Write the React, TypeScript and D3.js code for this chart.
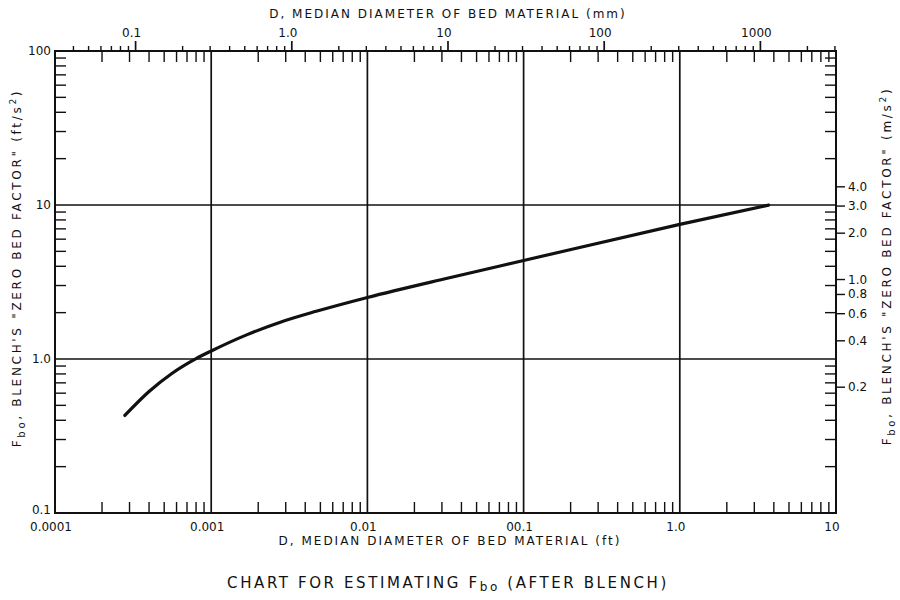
import React from "react";
import * as d3 from "d3";

const X_TICKS_FT = [0.0001, 0.001, 0.01, 0.1, 1, 10];
const X_TICK_LABELS = ["0.0001", "0.001", "0.01", "00.1", "1.0", "10"];
const X_GRID = [0.001, 0.01, 0.1, 1];
const Y_TICKS = [0.1, 1, 10, 100];
const Y_TICK_LABELS = ["0.1", "1.0", "10", "100"];
const Y_GRID = [1, 10];
const MM_TICKS = [0.1, 1, 10, 100, 1000];
const MM_TICK_LABELS = ["0.1", "1.0", "10", "100", "1000"];
const MS2_TICKS = [0.2, 0.4, 0.6, 0.8, 1.0, 2.0, 3.0, 4.0];
const MS2_TICK_LABELS = ["0.2", "0.4", "0.6", "0.8", "1.0", "2.0", "3.0", "4.0"];

const CURVE_D = [0.00028, 0.0004, 0.00056, 0.0008, 0.001, 0.0017, 0.0028, 0.0047, 0.01, 0.033, 0.1, 1.0, 3.7];
const CURVE_F = [0.43, 0.615, 0.805, 1.005, 1.127, 1.44, 1.74, 2.04, 2.51, 3.36, 4.36, 7.48, 9.98];

const FT_TO_MM = 304.8;
const FT_TO_M = 0.3048;

const FONT = "'DejaVu Sans', sans-serif";

function minorTicks(lo: number, hi: number): number[] {
  const out: number[] = [];
  for (let e = Math.floor(Math.log10(lo)) - 1; e <= Math.ceil(Math.log10(hi)); e++) {
    for (let k = 2; k <= 9; k++) {
      const v = k * Math.pow(10, e);
      if (v > lo * 1.0001 && v < hi * 0.9999) out.push(v);
    }
  }
  return out;
}

export default function App() {
  const L = 55, R = 836, T = 51, B = 513;
  const x = d3.scaleLog().domain([0.0001, 10]).range([L, R]);
  const y = d3.scaleLog().domain([0.1, 100]).range([B, T]);

  const xMinor = minorTicks(0.0001, 10);
  const yMinor = minorTicks(0.1, 100);
  const mmLo = 0.0001 * FT_TO_MM, mmHi = 10 * FT_TO_MM;
  const mmMinor = minorTicks(mmLo, mmHi).filter((v) => !MM_TICKS.includes(v));
  const pts = CURVE_D.map((d, i) => [x(d), y(CURVE_F[i])] as [number, number]);
  const line = d3.line().curve(d3.curveMonotoneX)(pts) || "";

  const stroke = "#111";
  const tickLen = 11;

  return (
    <svg width={900} height={600} style={{ position: "absolute", left: 0, top: 0, background: "#fff" }} fontFamily={FONT}>
      <rect x={0} y={0} width={900} height={600} fill="#fff" />
      {/* grid */}
      {X_GRID.map((v) => (
        <line key={"gx" + v} x1={x(v)} x2={x(v)} y1={T} y2={B} stroke={stroke} strokeWidth={1.7} />
      ))}
      {Y_GRID.map((v) => (
        <line key={"gy" + v} x1={L} x2={R} y1={y(v)} y2={y(v)} stroke={stroke} strokeWidth={1.7} />
      ))}
      {/* frame */}
      <rect x={L} y={T} width={R - L} height={B - T} fill="none" stroke={stroke} strokeWidth={2} />

      {/* bottom ft minor ticks (inward) */}
      {xMinor.map((v) => (
        <line key={"bx" + v} x1={x(v)} x2={x(v)} y1={B} y2={B - tickLen} stroke={stroke} strokeWidth={1.4} />
      ))}
      {/* top ft minor ticks (inward) */}
      {xMinor.map((v) => (
        <line key={"tx" + v} x1={x(v)} x2={x(v)} y1={T} y2={T + tickLen} stroke={stroke} strokeWidth={1.4} />
      ))}
      {/* top mm ticks (outward) */}
      {mmMinor.map((v) => (
        <line key={"mm" + v} x1={x(v / FT_TO_MM)} x2={x(v / FT_TO_MM)} y1={T} y2={T - 5} stroke={stroke} strokeWidth={1.4} />
      ))}
      {MM_TICKS.map((v) => (
        <line key={"MM" + v} x1={x(v / FT_TO_MM)} x2={x(v / FT_TO_MM)} y1={T} y2={T - 10} stroke={stroke} strokeWidth={1.7} />
      ))}
      {/* left minor ticks */}
      {yMinor.map((v) => (
        <line key={"ly" + v} x1={L} x2={L + tickLen} y1={y(v)} y2={y(v)} stroke={stroke} strokeWidth={1.4} />
      ))}
      {/* right minor ticks */}
      {yMinor.map((v) => (
        <line key={"ry" + v} x1={R} x2={R - tickLen} y1={y(v)} y2={y(v)} stroke={stroke} strokeWidth={1.4} />
      ))}
      {/* right m/s2 ticks (outward) */}
      {MS2_TICKS.map((v) => (
        <line key={"ms" + v} x1={R} x2={R + 9} y1={y(v / FT_TO_M)} y2={y(v / FT_TO_M)} stroke={stroke} strokeWidth={1.4} />
      ))}

      {/* curve */}
      <path d={line} fill="none" stroke={stroke} strokeWidth={3.2} strokeLinecap="round" strokeLinejoin="round" />

      {/* tick labels */}
      <g fontSize={12} fill={stroke}>
        {X_TICKS_FT.map((v, i) => (
          <text key={"xl" + v} x={x(v) - 4} y={531} textAnchor="middle">{X_TICK_LABELS[i]}</text>
        ))}
        {Y_TICKS.map((v, i) => (
          <text key={"yl" + v} x={L - 4} y={y(v) + (v === 0.1 ? 1 : 4)} textAnchor="end">{Y_TICK_LABELS[i]}</text>
        ))}
        {MM_TICKS.map((v, i) => (
          <text key={"ml" + v} x={x(v / FT_TO_MM) - 4} y={37} textAnchor="middle">{MM_TICK_LABELS[i]}</text>
        ))}
        {MS2_TICKS.map((v, i) => (
          <text key={"sl" + v} x={R + 12} y={y(v / FT_TO_M) + 4} textAnchor="start">{MS2_TICK_LABELS[i]}</text>
        ))}
      </g>

      {/* axis titles */}
      <g fontSize={12} fill={stroke} letterSpacing={2}>
        <text x={448} y={18} textAnchor="middle">D, MEDIAN DIAMETER OF BED MATERIAL (mm)</text>
        <text x={450} y={545} textAnchor="middle">D, MEDIAN DIAMETER OF BED MATERIAL (ft)</text>
      </g>
      <g fontSize={12} fill={stroke} letterSpacing={2.7}>
        <text transform="translate(21,268) rotate(-90)" textAnchor="middle">
          F<tspan fontSize={10} dy={4}>bo</tspan><tspan dy={-4}>, BLENCH'S "ZERO BED FACTOR" (ft/s</tspan><tspan fontSize={9} dy={-5}>2</tspan><tspan dy={5}>)</tspan>
        </text>
        <text transform="translate(891,266) rotate(-90)" textAnchor="middle">
          F<tspan fontSize={10} dy={4}>bo</tspan><tspan dy={-4}>, BLENCH'S "ZERO BED FACTOR" (m/s</tspan><tspan fontSize={9} dy={-5}>2</tspan><tspan dy={5}>)</tspan>
        </text>
      </g>
      <text x={448} y={588} textAnchor="middle" fontSize={15} letterSpacing={2.6} fill={stroke}>
        CHART FOR ESTIMATING F<tspan fontSize={12} dy={3}>bo</tspan><tspan dy={-3}> (AFTER BLENCH)</tspan>
      </text>
    </svg>
  );
}
